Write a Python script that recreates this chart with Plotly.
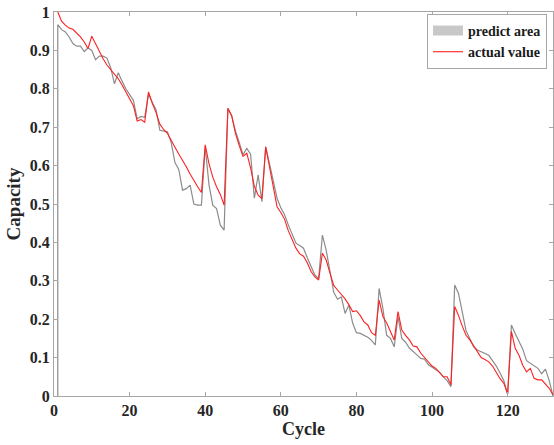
import plotly.graph_objects as go

cycles = list(range(1, 133))

actual_value = [
    1.000, 0.976, 0.966, 0.958, 0.955, 0.946, 0.935, 0.922, 0.905, 0.937,
    0.918, 0.895, 0.878, 0.862, 0.850, 0.838, 0.826, 0.810, 0.792, 0.775,
    0.756, 0.716, 0.720, 0.713, 0.792, 0.762, 0.738, 0.708, 0.694, 0.684,
    0.664, 0.648, 0.630, 0.614, 0.597, 0.578, 0.560, 0.545, 0.530, 0.654,
    0.605, 0.570, 0.545, 0.525, 0.497, 0.749, 0.730, 0.684, 0.652, 0.624,
    0.632, 0.594, 0.546, 0.523, 0.514, 0.649, 0.597, 0.540, 0.493, 0.478,
    0.460, 0.430, 0.408, 0.385, 0.370, 0.364, 0.347, 0.324, 0.310, 0.302,
    0.372, 0.354, 0.320, 0.288, 0.276, 0.265, 0.253, 0.238, 0.220, 0.222,
    0.210, 0.193, 0.185, 0.165, 0.158, 0.250, 0.207, 0.190, 0.170, 0.146,
    0.220, 0.172, 0.158, 0.146, 0.130, 0.128, 0.112, 0.100, 0.090, 0.078,
    0.072, 0.062, 0.050, 0.050, 0.029, 0.233, 0.210, 0.182, 0.158, 0.146,
    0.130, 0.115, 0.100, 0.095, 0.089, 0.078, 0.060, 0.045, 0.033, 0.005,
    0.168, 0.124, 0.106, 0.080, 0.063, 0.072, 0.046, 0.042, 0.042, 0.030,
    0.020, 0.003,
]

# predicted band edge; starts from the baseline at the first cycle
predict_cycles = [1] + cycles
predict_area = [
    0.000,
    0.967, 0.954, 0.948, 0.935, 0.918, 0.911, 0.911, 0.897, 0.906, 0.900,
    0.876, 0.885, 0.885, 0.880, 0.855, 0.813, 0.842, 0.820, 0.800, 0.785,
    0.770, 0.722, 0.728, 0.726, 0.786, 0.765, 0.745, 0.692, 0.690, 0.688,
    0.660, 0.608, 0.590, 0.536, 0.540, 0.549, 0.500, 0.497, 0.497, 0.649,
    0.550, 0.497, 0.488, 0.445, 0.432, 0.749, 0.730, 0.690, 0.660, 0.628,
    0.645, 0.630, 0.515, 0.576, 0.506, 0.649, 0.605, 0.555, 0.515, 0.490,
    0.472, 0.445, 0.420, 0.398, 0.392, 0.385, 0.360, 0.335, 0.315, 0.306,
    0.419, 0.380, 0.320, 0.270, 0.252, 0.258, 0.215, 0.237, 0.190, 0.165,
    0.163, 0.159, 0.153, 0.145, 0.133, 0.280, 0.228, 0.158, 0.150, 0.128,
    0.207, 0.150, 0.140, 0.125, 0.115, 0.107, 0.098, 0.096, 0.082, 0.076,
    0.070, 0.062, 0.050, 0.040, 0.024, 0.289, 0.267, 0.215, 0.170, 0.150,
    0.128, 0.120, 0.116, 0.112, 0.106, 0.092, 0.078, 0.060, 0.040, 0.005,
    0.185, 0.163, 0.143, 0.122, 0.092, 0.085, 0.080, 0.072, 0.058, 0.070,
    0.040, 0.000,
]

x_ticks = [0, 20, 40, 60, 80, 100, 120]
y_ticks = [0, 0.1, 0.2, 0.3, 0.4, 0.5, 0.6, 0.7, 0.8, 0.9, 1]

FONT = "Liberation Serif"
AXIS_COLOR = "#a6a6a6"
TEXT_COLOR = "#262626"

fig = go.Figure()

# predicted curve drawn as grey edge
fig.add_trace(go.Scatter(
    x=predict_cycles, y=predict_area, mode="lines",
    line=dict(color="#8c8c8c", width=1.2),
    showlegend=False, hoverinfo="skip",
))
# legend swatch for the predicted area (thick grey block)
fig.add_trace(go.Scatter(
    x=[None], y=[None], mode="lines",
    line=dict(color="#c8c8c8", width=14),
    name="predict area",
))
fig.add_trace(go.Scatter(
    x=cycles, y=actual_value, mode="lines",
    line=dict(color="#ff2020", width=1.1),
    name="actual value",
))

axis_common = dict(
    showline=True, linecolor=AXIS_COLOR, linewidth=1,
    mirror="ticks", ticks="inside", ticklen=4, tickcolor=AXIS_COLOR,
    showgrid=False, zeroline=False,
    tickfont=dict(family=FONT, size=16, color=TEXT_COLOR, weight="bold"),
)

fig.update_layout(
    width=554, height=445,
    margin=dict(l=54, r=1, t=12, b=49),
    paper_bgcolor="white", plot_bgcolor="white",
    xaxis=dict(
        range=[0, 132], tickvals=x_ticks,
        title=dict(text="Cycle", font=dict(family=FONT, size=18, color=TEXT_COLOR, weight="bold"), standoff=2),
        **axis_common,
    ),
    yaxis=dict(
        range=[0, 1], tickvals=y_ticks,
        title=dict(text="Capacity", font=dict(family=FONT, size=19, color=TEXT_COLOR, weight="bold"), standoff=4),
        **axis_common,
    ),
    legend=dict(
        x=0.988, y=0.995, xanchor="right", yanchor="top",
        bgcolor="white", bordercolor=AXIS_COLOR, borderwidth=1,
        font=dict(family=FONT, size=14, color="#1a1a1a", weight="bold"),
        itemwidth=30, tracegroupgap=0,
    ),
    showlegend=True,
)

# remove the default page margin so the figure fills the window exactly
fig.write_html(
    "out.html",
    config={"displayModeBar": False},
    post_script="document.body.style.margin='0';",
)
